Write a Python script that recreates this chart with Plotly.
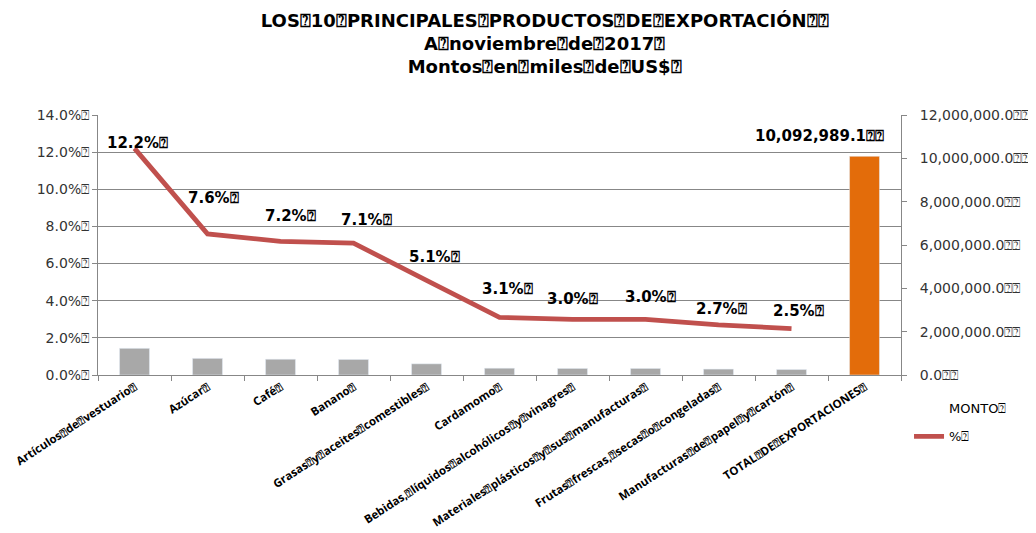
import plotly.graph_objects as go

B = "\u2370"  # missing-glyph box as seen in the reference

categorias = [
    "Artículos de vestuario", "Azúcar", "Café", "Banano",
    "Grasas y aceites comestibles", "Cardamomo",
    "Bebidas, líquidos alcohólicos y vinagres",
    "Materiales plásticos y sus manufacturas",
    "Frutas frescas, secas o congeladas",
    "Manufacturas de papel y cartón", "TOTAL DE EXPORTACIONES",
]
montos = [1231000, 767000, 727000, 717000, 515000, 313000, 303000, 303000,
          272000, 252000, 10092989.1]
porcentajes = [0.122, 0.076, 0.072, 0.071, 0.051, 0.031, 0.030, 0.030, 0.027, 0.025]

cat_labels = [c.replace(" ", B) + B for c in categorias]
bar_colors = ["#A8A8A8"] * (len(montos) - 1) + ["#E36C0A"]

fig = go.Figure()
fig.add_trace(go.Bar(
    x=cat_labels, y=montos, marker_color=bar_colors, width=0.41,
    showlegend=False, yaxis="y", hoverinfo="skip",
))
fig.add_trace(go.Bar(
    x=[None], y=[None], name="MONTO" + B,
    marker=dict(color="rgba(0,0,0,0)", line=dict(width=0, color="rgba(0,0,0,0)")),
    legendgroup="a",
))
fig.add_trace(go.Scatter(
    x=cat_labels[:len(porcentajes)], y=porcentajes, mode="lines", name="%" + B,
    line=dict(color="#C0504D", width=4.8), yaxis="y2", legendgroup="b",
))

# data labels
lab_dy = [5, 36, 25, 23, 23, 28, 20, 22, 16, 18]
lab_dx = [3, 6, 10, 13, 8, 8, 0, 5, 3, 7]
lab_font = dict(family="DejaVu Sans", size=15, color="#000000", weight="bold")
for i, v in enumerate(porcentajes):
    fig.add_annotation(
        x=cat_labels[i], y=v, yref="y2", text=f"{v*100:.1f}%{B}", showarrow=False,
        yshift=lab_dy[i], xshift=lab_dx[i], yanchor="middle", font=lab_font,
    )
fig.add_annotation(
    x=cat_labels[-1], y=montos[-1], yref="y", text=f"{montos[-1]:,.1f}{B}{B}",
    showarrow=False, yshift=20, xshift=-45, yanchor="middle", font=lab_font,
)

grid = "#878787"
tick_font = dict(family="DejaVu Sans", size=14, color="#333333")
fig.update_layout(
    width=1036, height=533,
    margin=dict(l=90, r=143, t=107, b=166, autoexpand=False),
    paper_bgcolor="white", plot_bgcolor="white",
    title=dict(
        text=(f"LOS{B}10{B}PRINCIPALES{B}PRODUCTOS{B}DE{B}EXPORTACIÓN{B}{B}<br>"
              f"A{B}noviembre{B}de{B}2017{B}<br>Montos{B}en{B}miles{B}de{B}US${B}"),
        x=0.518, xanchor="center", y=0.965, yanchor="middle",
        font=dict(family="DejaVu Sans", size=18, color="#000000", weight="bold"),
    ),
    bargap=0.59,
    xaxis=dict(
        type="category", showline=True, linecolor=grid, linewidth=1,
        ticks="outside", tickson="boundaries", ticklen=5, tickcolor=grid,
        tickangle=-33, automargin=False,
        tickfont=dict(family="Open Sans", size=11.5, color="#000000", weight="bold"),
    ),
    yaxis=dict(
        side="right", range=[0, 12000000], dtick=2000000, tickformat=",.1f",
        ticksuffix=B + B, showgrid=False, showline=True, linecolor=grid,
        ticks="outside", ticklen=5, tickcolor=grid, zeroline=False,
        ticklabelstandoff=10, automargin=False, tickfont=tick_font,
    ),
    yaxis2=dict(
        overlaying="y", side="left", range=[0, 0.14], dtick=0.02,
        tickformat=".1%", ticksuffix=B, showgrid=True, gridcolor=grid,
        gridwidth=1, showline=True, linecolor=grid, ticks="outside",
        ticklen=5, tickcolor=grid, zeroline=False, automargin=False,
        tickfont=tick_font,
    ),
    legend=dict(
        x=1.01, y=-0.071, xanchor="left", yanchor="top",
        traceorder="grouped", tracegroupgap=8,
        font=dict(family="DejaVu Sans", size=13, color="#000000"),
        bgcolor="rgba(0,0,0,0)",
    ),
)

fig.write_html("out.html")
